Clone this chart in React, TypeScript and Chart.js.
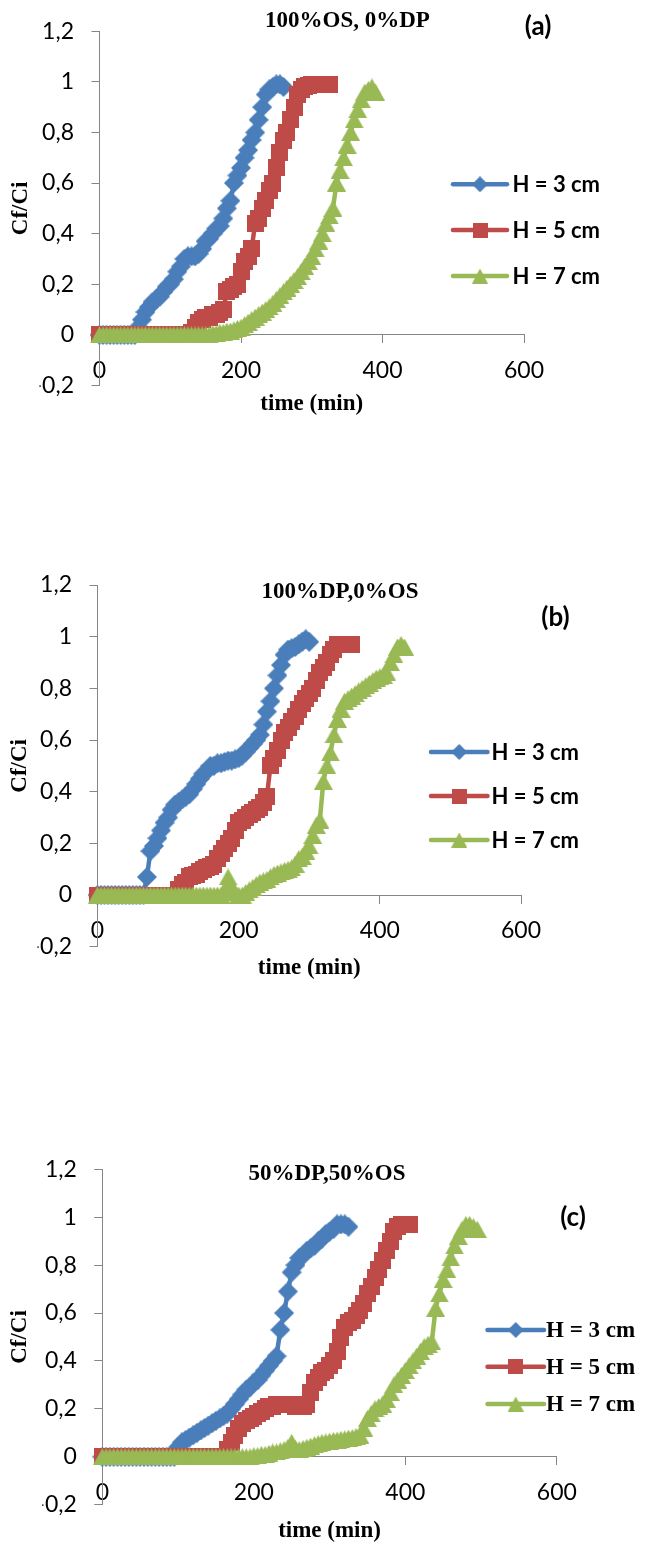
import React, { useEffect, useRef } from "react";
import { Chart, registerables } from "chart.js";

Chart.register(...registerables);

// ---------------- DATA ----------------
const TIME_A = [0,5,10,15,20,25,30,35,40,45,50,55,60,65,70,75,80,85,90,95,100,105,110,115,120,125,130,135,140,145,150,155,160,165,170,175,180,185,190,195,200,205,210,215,220,225,230,235,240,245,250,255,260,265,270,275,280,285,290,295,300,305,310,315,320,325,330,335,340,345,350,355,360,365,370,375,380,385,390];
const A_H3 = [0,0,0,0,0,0,0,0,0,0,0,0.03,0.06,0.09,0.11,0.13,0.14,0.15,0.17,0.19,0.2,0.22,0.25,0.27,0.3,0.31,0.31,0.31,0.32,0.34,0.37,0.38,0.4,0.42,0.43,0.46,0.5,0.53,0.6,0.63,0.66,0.7,0.73,0.77,0.8,0.85,0.9,0.95,0.97,0.98,0.99,0.99,0.98];
const A_H5 = [0,0,0,0,0,0,0,0,0,0,0,0,0,0,0,0,0,0,0,0,0,0,0,0,0,0,0.01,0.03,0.05,0.06,0.07,0.07,0.08,0.08,0.09,0.1,0.17,0.18,0.19,0.2,0.25,0.29,0.31,0.34,0.44,0.46,0.5,0.53,0.57,0.6,0.66,0.72,0.77,0.8,0.85,0.9,0.95,0.97,0.98,0.985,0.99,0.99,0.99,0.99,0.99,0.99];
const A_H7 = [0,0,0,0,0,0,0,0,0,0,0,0,0,0,0,0,0,0,0,0,0,0,0,0,0,0,0,0,0,0,0,0,0.005,0.005,0.01,0.01,0.015,0.015,0.02,0.025,0.03,0.04,0.05,0.06,0.07,0.08,0.09,0.1,0.11,0.125,0.14,0.155,0.17,0.185,0.2,0.215,0.23,0.25,0.27,0.29,0.31,0.34,0.37,0.4,0.44,0.47,0.5,0.6,0.65,0.7,0.75,0.8,0.85,0.89,0.93,0.96,0.97,0.98,0.96];

const TIME_B = [0,5,10,15,20,25,30,35,40,45,50,55,60,65,70,75,80,85,90,95,100,105,110,115,120,125,130,135,140,145,150,155,160,165,170,175,180,185,190,195,200,205,210,215,220,225,230,235,240,245,250,255,260,265,270,275,280,285,290,295,300,305,310,315,320,325,330,335,340,345,350,355,360,365,370,375,380,385,390,395,400,405,410,415,420,425,430,435];
const B_H3 = [0,0,0,0,0,0,0,0,0,0,0,0,0,0,0.07,0.17,0.19,0.22,0.25,0.28,0.3,0.33,0.35,0.36,0.37,0.38,0.39,0.41,0.43,0.45,0.47,0.48,0.5,0.5,0.51,0.51,0.515,0.52,0.52,0.525,0.53,0.54,0.555,0.57,0.585,0.6,0.62,0.66,0.71,0.75,0.8,0.85,0.89,0.93,0.95,0.955,0.96,0.97,0.98,0.99,0.98];
const B_H5 = [0,0,0,0,0,0,0,0,0,0,0,0,0,0,0,0,0,0,0,0,0,0,0,0.02,0.04,0.05,0.07,0.075,0.08,0.09,0.1,0.105,0.11,0.12,0.14,0.16,0.18,0.2,0.22,0.25,0.28,0.29,0.3,0.31,0.32,0.33,0.34,0.36,0.38,0.5,0.53,0.56,0.6,0.63,0.65,0.67,0.69,0.72,0.74,0.76,0.78,0.8,0.83,0.86,0.88,0.9,0.93,0.95,0.97,0.97,0.97,0.97,0.97];
const B_H7 = [0,0,0,0,0,0,0,0,0,0,0,0,0,0,0,0,0,0,0,0,0,0,0,0,0,0,0,0,0,0,0,0,0,0,0,0,0.02,0.07,0.03,0.01,0,0,0.01,0.02,0.03,0.04,0.05,0.055,0.06,0.07,0.08,0.085,0.09,0.095,0.1,0.105,0.12,0.14,0.15,0.17,0.19,0.23,0.27,0.29,0.44,0.5,0.55,0.62,0.68,0.72,0.75,0.76,0.77,0.78,0.79,0.8,0.81,0.82,0.83,0.84,0.845,0.85,0.86,0.9,0.93,0.96,0.97,0.96];

const TIME_C = [0,5,10,15,20,25,30,35,40,45,50,55,60,65,70,75,80,85,90,95,100,105,110,115,120,125,130,135,140,145,150,155,160,165,170,175,180,185,190,195,200,205,210,215,220,225,230,235,240,245,250,255,260,265,270,275,280,285,290,295,300,305,310,315,320,325,330,335,340,345,350,355,360,365,370,375,380,385,390,395,400,405,410,415,420,425,430,435,440,445,450,455,460,465,470,475,480,485,490,495];
const C_H3 = [0,0,0,0,0,0,0,0,0,0,0,0,0,0,0,0,0,0,0,0,0.04,0.06,0.07,0.08,0.09,0.1,0.11,0.12,0.13,0.14,0.15,0.16,0.17,0.18,0.2,0.22,0.24,0.26,0.28,0.29,0.31,0.32,0.34,0.36,0.38,0.4,0.42,0.53,0.6,0.69,0.77,0.8,0.83,0.84,0.86,0.87,0.88,0.9,0.91,0.93,0.94,0.95,0.97,0.97,0.97,0.96];
const C_H5 = [0,0,0,0,0,0,0,0,0,0,0,0,0,0,0,0,0,0,0,0,0,0,0,0,0,0,0,0,0,0,0,0,0,0.03,0.06,0.09,0.12,0.14,0.15,0.16,0.17,0.18,0.19,0.2,0.21,0.21,0.22,0.22,0.22,0.22,0.22,0.21,0.21,0.21,0.22,0.27,0.31,0.33,0.35,0.36,0.38,0.4,0.44,0.5,0.54,0.56,0.57,0.59,0.61,0.64,0.68,0.71,0.75,0.78,0.82,0.86,0.9,0.94,0.96,0.97,0.97,0.97];
const C_H7 = [0,0,0,0,0,0,0,0,0,0,0,0,0,0,0,0,0,0,0,0,0,0,0,0,0,0,0,0,0,0,0,0,0,0,0,0,0,0,0,0,0.005,0.005,0.01,0.01,0.015,0.02,0.02,0.025,0.03,0.04,0.06,0.035,0.03,0.035,0.04,0.045,0.05,0.055,0.06,0.062,0.065,0.068,0.07,0.073,0.075,0.078,0.08,0.085,0.09,0.12,0.16,0.18,0.2,0.21,0.22,0.24,0.27,0.3,0.32,0.34,0.36,0.38,0.4,0.42,0.44,0.46,0.47,0.48,0.62,0.68,0.74,0.78,0.83,0.88,0.92,0.95,0.97,0.97,0.96,0.95];

const LEGEND_LABELS = ["H = 3 cm", "H = 5 cm", "H = 7 cm"];
const PANEL_TITLES = ["100%OS, 0%DP", "100%DP,0%OS", "50%DP,50%OS"];
const PANEL_TAGS = ["(a)", "(b)", "(c)"];
const X_TITLE = "time (min)";
const Y_TITLE = "Cf/Ci";
const X_MIN = 0, X_MAX = 600, X_STEP = 200;
const Y_MIN = -0.2, Y_MAX = 1.2, Y_STEP = 0.2;

// ---------------- STYLE / LAYOUT ----------------
const W = 652;
const Y_AXIS_W = 60;
const AXIS_COLOR = "#868686";
const SERIF_BOLD = "bold 23px 'Liberation Serif', 'Times New Roman', serif";
const SANS_BOLD = "bold 22px Lato, sans-serif";
const TAG_FONT = "bold 26px Lato, sans-serif";
const SERIES_STYLE = [
  { color: "#4A7EBB", shape: "diamond", w: 20, h: 20, lw: 16, lh: 16 },
  { color: "#BE4B48", shape: "square", w: 17, h: 17, lw: 15, lh: 15 },
  { color: "#98B954", shape: "triangle", w: 19, h: 17, lw: 16, lh: 15 },
];

type Panel = {
  top: number;
  height: number;
  area: { left: number; right: number; top: number; bottom: number };
  time: number[];
  series: number[][];
  title: string;
  tag: string;
  titleX: number;
  titleY: number;
  tagX: number;
  tagY: number;
  legendX0: number;
  legendX1: number;
  legendTextX: number;
  legendRows: number[];
  legendFont: string;
  xTitleY: number;
  yTitleX: number;
};

const PANELS: Panel[] = [
  {
    top: 0, height: 430,
    area: { left: 99.5, right: 524, top: 16.5, bottom: 385.4 },
    time: TIME_A, series: [A_H3, A_H5, A_H7],
    title: PANEL_TITLES[0], tag: PANEL_TAGS[0],
    titleX: 347.5, titleY: 21, tagX: 538, tagY: 27,
    legendX0: 453, legendX1: 507, legendTextX: 512.5, legendRows: [184.3, 230, 276],
    legendFont: SANS_BOLD, xTitleY: 404, yTitleX: 21.5,
  },
  {
    top: 540, height: 450,
    area: { left: 97.5, right: 521, top: 45, bottom: 406.7 },
    time: TIME_B, series: [B_H3, B_H5, B_H7],
    title: PANEL_TITLES[1], tag: PANEL_TAGS[1],
    titleX: 340, titleY: 52, tagX: 555.5, tagY: 78,
    legendX0: 431, legendX1: 487.5, legendTextX: 491.5, legendRows: [212, 256, 300],
    legendFont: SANS_BOLD, xTitleY: 428, yTitleX: 20,
  },
  {
    top: 1125, height: 419,
    area: { left: 102.3, right: 556.8, top: 44.3, bottom: 379.7 },
    time: TIME_C, series: [C_H3, C_H5, C_H7],
    title: PANEL_TITLES[2], tag: PANEL_TAGS[2],
    titleX: 327, titleY: 49, tagX: 573, tagY: 93,
    legendX0: 487.5, legendX1: 544, legendTextX: 546, legendRows: [205, 241.7, 279],
    legendFont: SERIF_BOLD, xTitleY: 406.5, yTitleX: 20,
  },
];

function makeMarker(shape: string, color: string, w: number, h: number): HTMLCanvasElement {
  const c = document.createElement("canvas");
  c.width = w;
  c.height = h;
  const g = c.getContext("2d")!;
  g.fillStyle = color;
  g.beginPath();
  if (shape === "diamond") {
    g.moveTo(w / 2, 0);
    g.lineTo(w, h / 2);
    g.lineTo(w / 2, h);
    g.lineTo(0, h / 2);
  } else if (shape === "square") {
    g.rect(0, 0, w, h);
  } else {
    g.moveTo(w / 2, 0);
    g.lineTo(w, h);
    g.lineTo(0, h);
  }
  g.closePath();
  g.fill();
  return c;
}

function ChartPanel({ panel }: { panel: Panel }) {
  const ref = useRef<HTMLCanvasElement>(null);

  useEffect(() => {
    const canvas = ref.current;
    if (!canvas) return;
    const a = panel.area;
    const markers = SERIES_STYLE.map((s) => makeMarker(s.shape, s.color, s.w, s.h));
    const legendMarkers = SERIES_STYLE.map((s) => makeMarker(s.shape, s.color, s.lw, s.lh));

    const overlay = {
      id: "overlay",
      afterDraw(chart: any) {
        const ctx: CanvasRenderingContext2D = chart.ctx;
        const ca = chart.chartArea;
        ctx.save();
        ctx.fillStyle = "#000";
        ctx.textBaseline = "middle";
        ctx.textAlign = "center";
        ctx.font = SERIF_BOLD;
        ctx.fillText(panel.title, panel.titleX, panel.titleY);
        ctx.fillText(X_TITLE, (ca.left + ca.right) / 2, panel.xTitleY);
        ctx.save();
        ctx.translate(panel.yTitleX, (ca.top + ca.bottom) / 2);
        ctx.rotate(-Math.PI / 2);
        ctx.fillText(Y_TITLE, 0, 0);
        ctx.restore();
        ctx.font = TAG_FONT;
        ctx.fillText(panel.tag, panel.tagX, panel.tagY);

        chart.data.datasets.forEach((ds: any, i: number) => {
          const y = panel.legendRows[i];
          const st = SERIES_STYLE[i];
          ctx.strokeStyle = st.color;
          ctx.lineWidth = 4.5;
          ctx.lineCap = "round";
          ctx.beginPath();
          ctx.moveTo(panel.legendX0, y);
          ctx.lineTo(panel.legendX1, y);
          ctx.stroke();
          const mx = (panel.legendX0 + panel.legendX1) / 2;
          ctx.drawImage(legendMarkers[i], mx - st.lw / 2, y - st.lh / 2, st.lw, st.lh);
          ctx.fillStyle = "#000";
          ctx.font = panel.legendFont;
          ctx.textAlign = "left";
          ctx.textBaseline = "middle";
          ctx.fillText(ds.label, panel.legendTextX, y + 1);
        });
        ctx.restore();
      },
    };

    const datasets = panel.series.map((vals, i) => {
      const st = SERIES_STYLE[i];
      return {
        label: LEGEND_LABELS[i],
        data: vals.map((v, k) => ({ x: panel.time[k], y: v })),
        borderColor: st.color,
        backgroundColor: st.color,
        borderWidth: 4.5,
        borderJoinStyle: "round",
        pointStyle: markers[i],
        pointRadius: 10,
        tension: 0,
        clip: false,
        order: 2 - i,
      };
    });

    const chart = new Chart(canvas, {
      type: "line",
      data: { datasets } as any,
      options: {
        responsive: false,
        animation: false,
        devicePixelRatio: 1,
        events: [],
        layout: {
          padding: {
            left: a.left - Y_AXIS_W,
            right: W - a.right,
            top: a.top,
            bottom: panel.height - a.bottom,
          },
        },
        plugins: {
          legend: { display: false },
          tooltip: { enabled: false },
          title: { display: false },
        },
        scales: {
          x: {
            type: "linear",
            min: X_MIN,
            max: X_MAX,
            position: { y: 0 } as any,
            grid: {
              display: true,
              drawOnChartArea: false,
              drawTicks: true,
              tickLength: 8,
              color: AXIS_COLOR,
              lineWidth: 1,
            },
            border: { display: true, color: AXIS_COLOR, width: 1 },
            ticks: {
              stepSize: X_STEP,
              maxRotation: 0,
              autoSkip: false,
              padding: 13.5,
              color: "#000",
              font: { family: "Lato", size: 23 },
            },
          },
          y: {
            type: "linear",
            position: "left",
            min: Y_MIN,
            max: Y_MAX,
            afterFit: (scale: any) => {
              scale.width = Y_AXIS_W;
            },
            grid: {
              display: true,
              drawOnChartArea: false,
              drawTicks: true,
              tickLength: 8,
              color: AXIS_COLOR,
              lineWidth: 1,
            },
            border: { display: true, color: AXIS_COLOR, width: 1 },
            ticks: {
              stepSize: Y_STEP,
              padding: 17.5,
              color: "#000",
              font: { family: "Lato", size: 23 },
              callback: (value: any) => {
                const v = Math.round(Number(value) * 10) / 10;
                return String(v).replace(".", ",");
              },
            },
          },
        },
      } as any,
      plugins: [overlay],
    });

    return () => chart.destroy();
  }, [panel]);

  return (
    <canvas
      ref={ref}
      width={W}
      height={panel.height}
      style={{ position: "absolute", left: 0, top: panel.top, width: W, height: panel.height, display: "block" }}
    />
  );
}

export default function App() {
  return (
    <div style={{ position: "absolute", left: 0, top: 0, width: W, height: 1544, background: "#fff" }}>
      {PANELS.map((p, i) => (
        <ChartPanel key={i} panel={p} />
      ))}
    </div>
  );
}
